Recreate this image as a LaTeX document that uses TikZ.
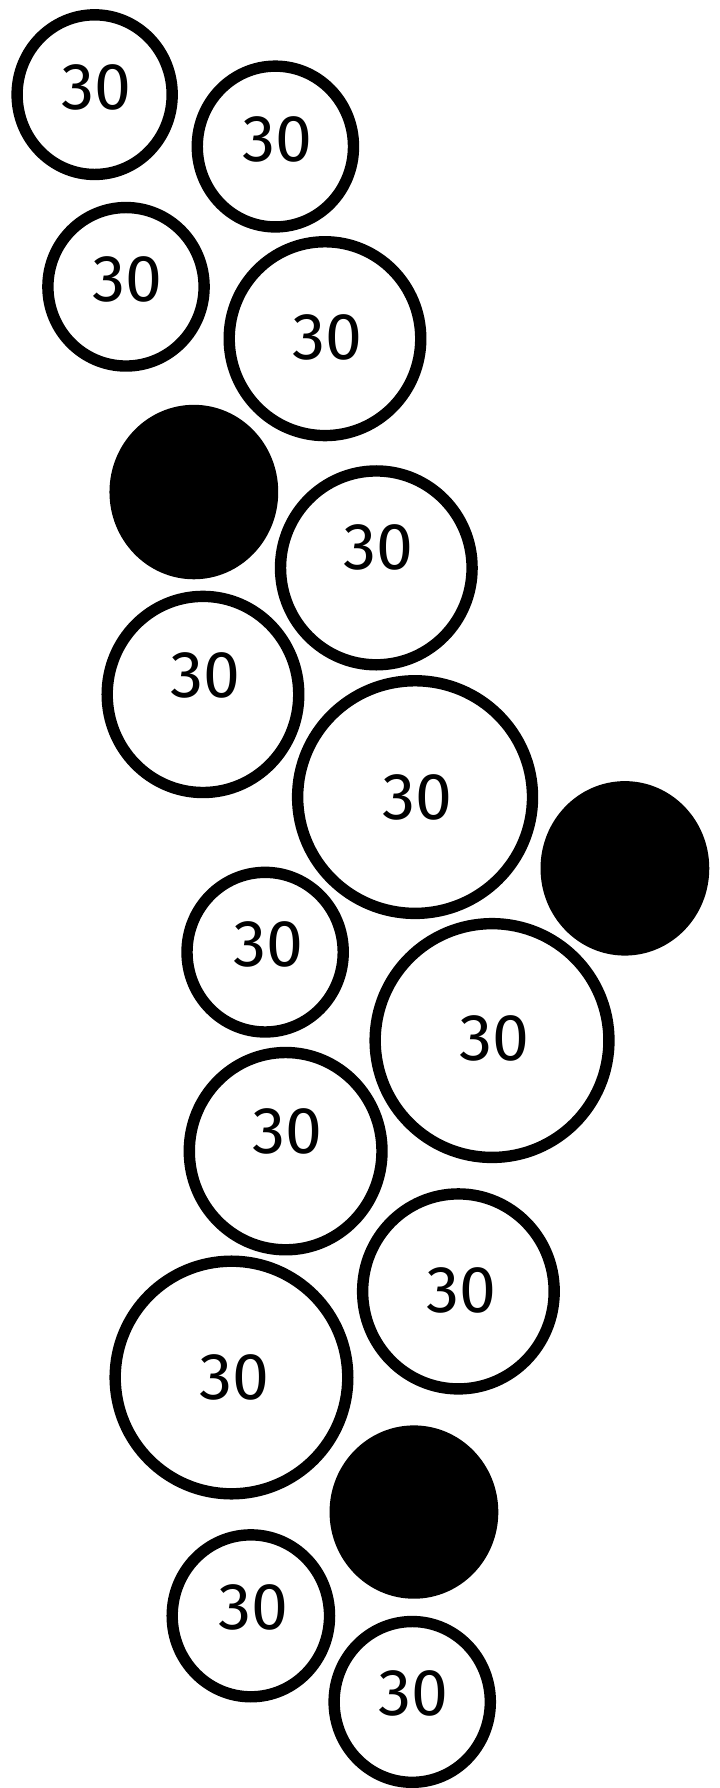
\documentclass[tikz,border=0pt]{standalone}
\usepackage{fontspec}
\setmainfont{Fira Sans}
\usetikzlibrary{shapes.geometric}

\begin{document}
\begin{tikzpicture}[x=1pt, y=-1pt,
    ring/.style={ellipse, draw=black, line width=10pt, fill=white, inner sep=0pt},
    dot/.style={ellipse, draw=black, line width=10pt, fill=black, inner sep=0pt},
    num/.style={inner sep=0pt, font=\fontsize{58}{60}\selectfont}
]

    \useasboundingbox (0,0) rectangle (631,1568);

    % top rows
    \node[ring, minimum width=136, minimum height=140] (c1) at (83,83) {};
    \node[ring, minimum width=137, minimum height=141] (c2) at (241.5,128.5) {};
    \node[ring, minimum width=137, minimum height=139] (c3) at (110.5,251.5) {};
    \node[ring, minimum width=168, minimum height=170] (c4) at (285,297) {};
    \node[dot,  minimum width=138, minimum height=143] (d1) at (170,431.5) {};
    \node[ring, minimum width=168, minimum height=170] (c5) at (330,498) {};
    \node[ring, minimum width=168, minimum height=172] (c6) at (178,609) {};

    % middle rows
    \node[ring, minimum width=206, minimum height=204] (c7) at (364,699) {};
    \node[dot,  minimum width=138, minimum height=143] (d2) at (548,761.5) {};
    \node[ring, minimum width=137, minimum height=140] (c8) at (232.5,835) {};
    \node[ring, minimum width=205, minimum height=205] (c9) at (431.5,912.5) {};
    \node[ring, minimum width=169, minimum height=173] (c10) at (250.5,1009.5) {};
    \node[ring, minimum width=168, minimum height=171] (c11) at (402,1132.5) {};

    % bottom rows
    \node[ring, minimum width=204, minimum height=204] (c12) at (203,1208) {};
    \node[dot,  minimum width=138, minimum height=142] (d3) at (363,1326) {};
    \node[ring, minimum width=138, minimum height=142] (c13) at (220,1417) {};
    \node[ring, minimum width=137, minimum height=141] (c14) at (361.5,1492.5) {};

    % labels
    \node[num] (t1) at (85,77) {30};
    \node[num] (t2) at (243,122) {30};
    \node[num] (t3) at (112,245) {30};
    \node[num] (t4) at (287,296) {30};
    \node[num] (t5) at (332,480) {30};
    \node[num] (t6) at (180,592) {30};
    \node[num] (t7) at (366,699) {30};
    \node[num] (t8) at (235,828) {30};
    \node[num] (t9) at (434,911) {30};
    \node[num] (t10) at (252,992) {30};
    \node[num] (t11) at (405,1132) {30};
    \node[num] (t12) at (206,1208) {30};
    \node[num] (t13) at (222,1410) {30};
    \node[num] (t14) at (363,1485) {30};

\end{tikzpicture}
\end{document}
